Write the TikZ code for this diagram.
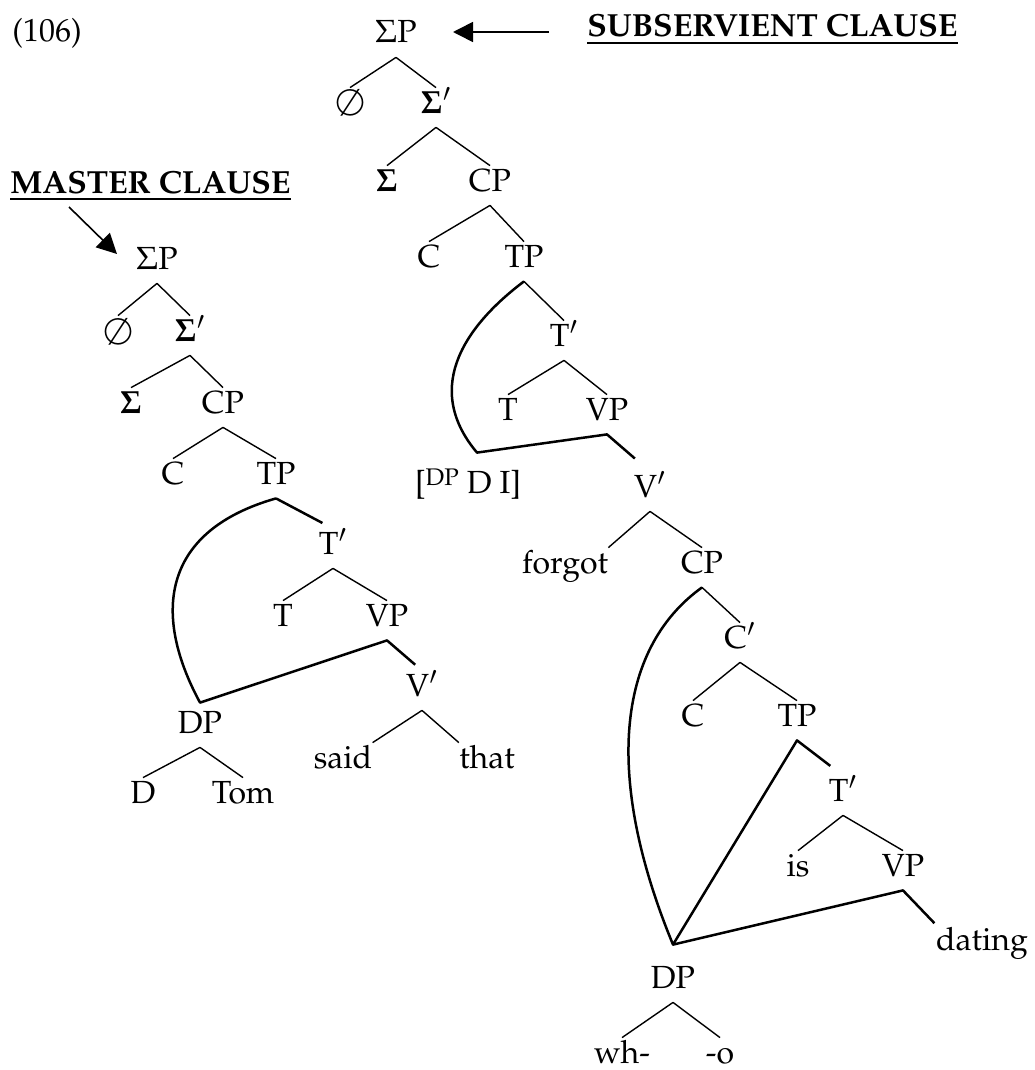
\documentclass[tikz,border=0pt]{standalone}
\usepackage[T1]{fontenc}
\usepackage{mathpazo}
\usetikzlibrary{arrows.meta}

\begin{document}
\begin{tikzpicture}[x=0.5pt, y=-0.5pt, font=\fontsize{16}{19}\selectfont,
    tn/.style={anchor=base, inner sep=0pt, text height=12.5pt, text depth=7pt},
    lbl/.style={anchor=base west, inner sep=0pt, font=\fontsize{16}{19}\selectfont\bfseries},
    br/.style={line width=0.7pt},
    mv/.style={line width=1.25pt, line join=round},
    uline/.style={line width=1.4pt},
    bigarrow/.style={-{Triangle[length=10pt,width=10pt]}, line width=0.8pt}]
  \useasboundingbox (0,0) rectangle (1034,1070);

  \node [anchor=base west, inner sep=0pt] (num) at (12,42) {(106)};
  \node [lbl] (sub) at (587,37) {SUBSERVIENT CLAUSE};
  \node [lbl] (master) at (10,193) {MASTER CLAUSE};
  \draw [uline] ([yshift=-3pt]sub.base west) -- ([yshift=-3pt]sub.base east);
  \draw [uline] ([yshift=-3pt]master.base west) -- ([yshift=-3pt]master.base east);
  \coordinate (subtail) at (549,32);
  \coordinate (subtip) at (453,32);
  \coordinate (mtail) at (69,207);
  \coordinate (mtip) at (117,254);
  \draw [bigarrow] (subtail) -- (subtip);
  \draw [bigarrow] (mtail) -- (mtip);

  \node [tn] (rsp) at (396,43) {$\Sigma$P};
  \node [tn] (rnull) at (350,113) {\raisebox{-1.5pt}{\scalebox{1.15}{$\emptyset$}}};
  \node [tn] (rsbar) at (436,113) {{\boldmath$\Sigma$}$'$};
  \node [tn] (rsig) at (387,191) {{\boldmath$\Sigma$}};
  \node [tn] (rcp) at (490,191) {CP};
  \node [tn] (rc) at (429,267) {C};
  \node [tn] (rtp) at (524,267) {TP};
  \node [tn] (rtbar) at (564,346) {T$'$};
  \node [tn] (rt) at (508,420) {T};
  \node [tn] (rvp) at (607,420) {VP};
  \node [tn] (rdp) at (468,493) {[\raisebox{0.5ex}{\fontsize{12}{14}\selectfont DP} D I]};
  \node [tn] (rvbar) at (650,497) {V$'$};
  \node [tn] (rforgot) at (565,573) {forgot};
  \node [tn] (rcp2) at (702,573) {CP};
  \node [tn] (rcbar) at (740,648) {C$'$};
  \node [tn] (rc2) at (693,726) {C};
  \node [tn] (rtp2) at (797,726) {TP};
  \node [tn] (rtbar2) at (843,801) {T$'$};
  \node [tn] (ris) at (798,876) {is};
  \node [tn] (rvp2) at (903,876) {VP};
  \node [tn] (rdating) at (982,950) {dating};
  \node [tn] (rdp2) at (673,988) {DP};
  \node [tn] (rwh) at (622,1063) {wh-};
  \node [tn] (ro) at (720,1063) {-o};

  \node [tn] (lsp) at (157,269) {$\Sigma$P};
  \node [tn] (lnull) at (118,341) {\raisebox{-1.5pt}{\scalebox{1.15}{$\emptyset$}}};
  \node [tn] (lsbar) at (190,341) {{\boldmath$\Sigma$}$'$};
  \node [tn] (lsig) at (131,413) {{\boldmath$\Sigma$}};
  \node [tn] (lcp) at (223,413) {CP};
  \node [tn] (lc) at (173,484) {C};
  \node [tn] (ltp) at (276,484) {TP};
  \node [tn] (ltbar) at (333,554) {T$'$};
  \node [tn] (lt) at (283,626) {T};
  \node [tn] (lvp) at (387,626) {VP};
  \node [tn] (lvbar) at (422,696) {V$'$};
  \node [tn] (ldp) at (200,733) {DP};
  \node [tn] (lsaid) at (343,768) {said};
  \node [tn] (lthat) at (487,768) {that};
  \node [tn] (ld) at (143,803) {D};
  \node [tn] (ltom) at (243,803) {Tom};

  \draw [br] (rsp.south) -- (rnull.north);
  \draw [br] (rsp.south) -- (rsbar.north);
  \draw [br] (rsbar.south) -- (rsig.north);
  \draw [br] (rsbar.south) -- (rcp.north);
  \draw [br] (rcp.south) -- (rc.north);
  \draw [br] (rcp.south) -- (rtp.north);
  \draw [br] (rtp.south) -- (rtbar.north);
  \draw [br] (rtbar.south) -- (rt.north);
  \draw [br] (rtbar.south) -- (rvp.north);
  \draw [br] (rvbar.south) -- (rforgot.north east);
  \draw [br] (rvbar.south) -- (rcp2.north);
  \draw [br] (rcp2.south) -- (rcbar.north);
  \draw [br] (rcbar.south) -- (rc2.north);
  \draw [br] (rcbar.south) -- (rtp2.north);
  \draw [br] (rtbar2.south) -- (ris.north);
  \draw [br] (rtbar2.south) -- (rvp2.north);
  \draw [br] (rdp2.south) -- (rwh.north);
  \draw [br] (rdp2.south) -- (ro.north);

  \draw [br] (lsp.south) -- (lnull.north);
  \draw [br] (lsp.south) -- (lsbar.north);
  \draw [br] (lsbar.south) -- (lsig.north);
  \draw [br] (lsbar.south) -- (lcp.north);
  \draw [br] (lcp.south) -- (lc.north);
  \draw [br] (lcp.south) -- (ltp.north);
  \draw [br] (ltbar.south) -- (lt.north);
  \draw [br] (ltbar.south) -- (lvp.north);
  \draw [br] (lvbar.south) -- (lsaid.north east);
  \draw [br] (lvbar.south) -- (lthat.north west);
  \draw [br] (ldp.south) -- (ld.north);
  \draw [br] (ldp.south) -- (ltom.north);

  \draw [mv, shorten >=10pt] (rtp.south) .. controls (470,322) and (420,385) .. ([xshift=4.5pt,yshift=7.5pt]rdp.north) -- (rvp.south) -- (rvbar.north);
  \draw [mv, shorten >=8pt] (rcp2.south) .. controls (615,650) and (605,780) .. ([yshift=9pt]rdp2.north) -- (rtp2.south) -- (rtbar2.north);
  \draw [mv, shorten >=1pt] ([yshift=9pt]rdp2.north) -- (rvp2.south) -- (rdating.north west);
  \draw [mv, shorten >=4.5pt] (ltp.south) .. controls (165,530) and (150,610) .. ([yshift=2.5pt]ldp.north) -- (lvp.south) -- (lvbar.north);
  \draw [mv, shorten >=6pt] (ltp.south) -- (ltbar.north);
\end{tikzpicture}
\end{document}
